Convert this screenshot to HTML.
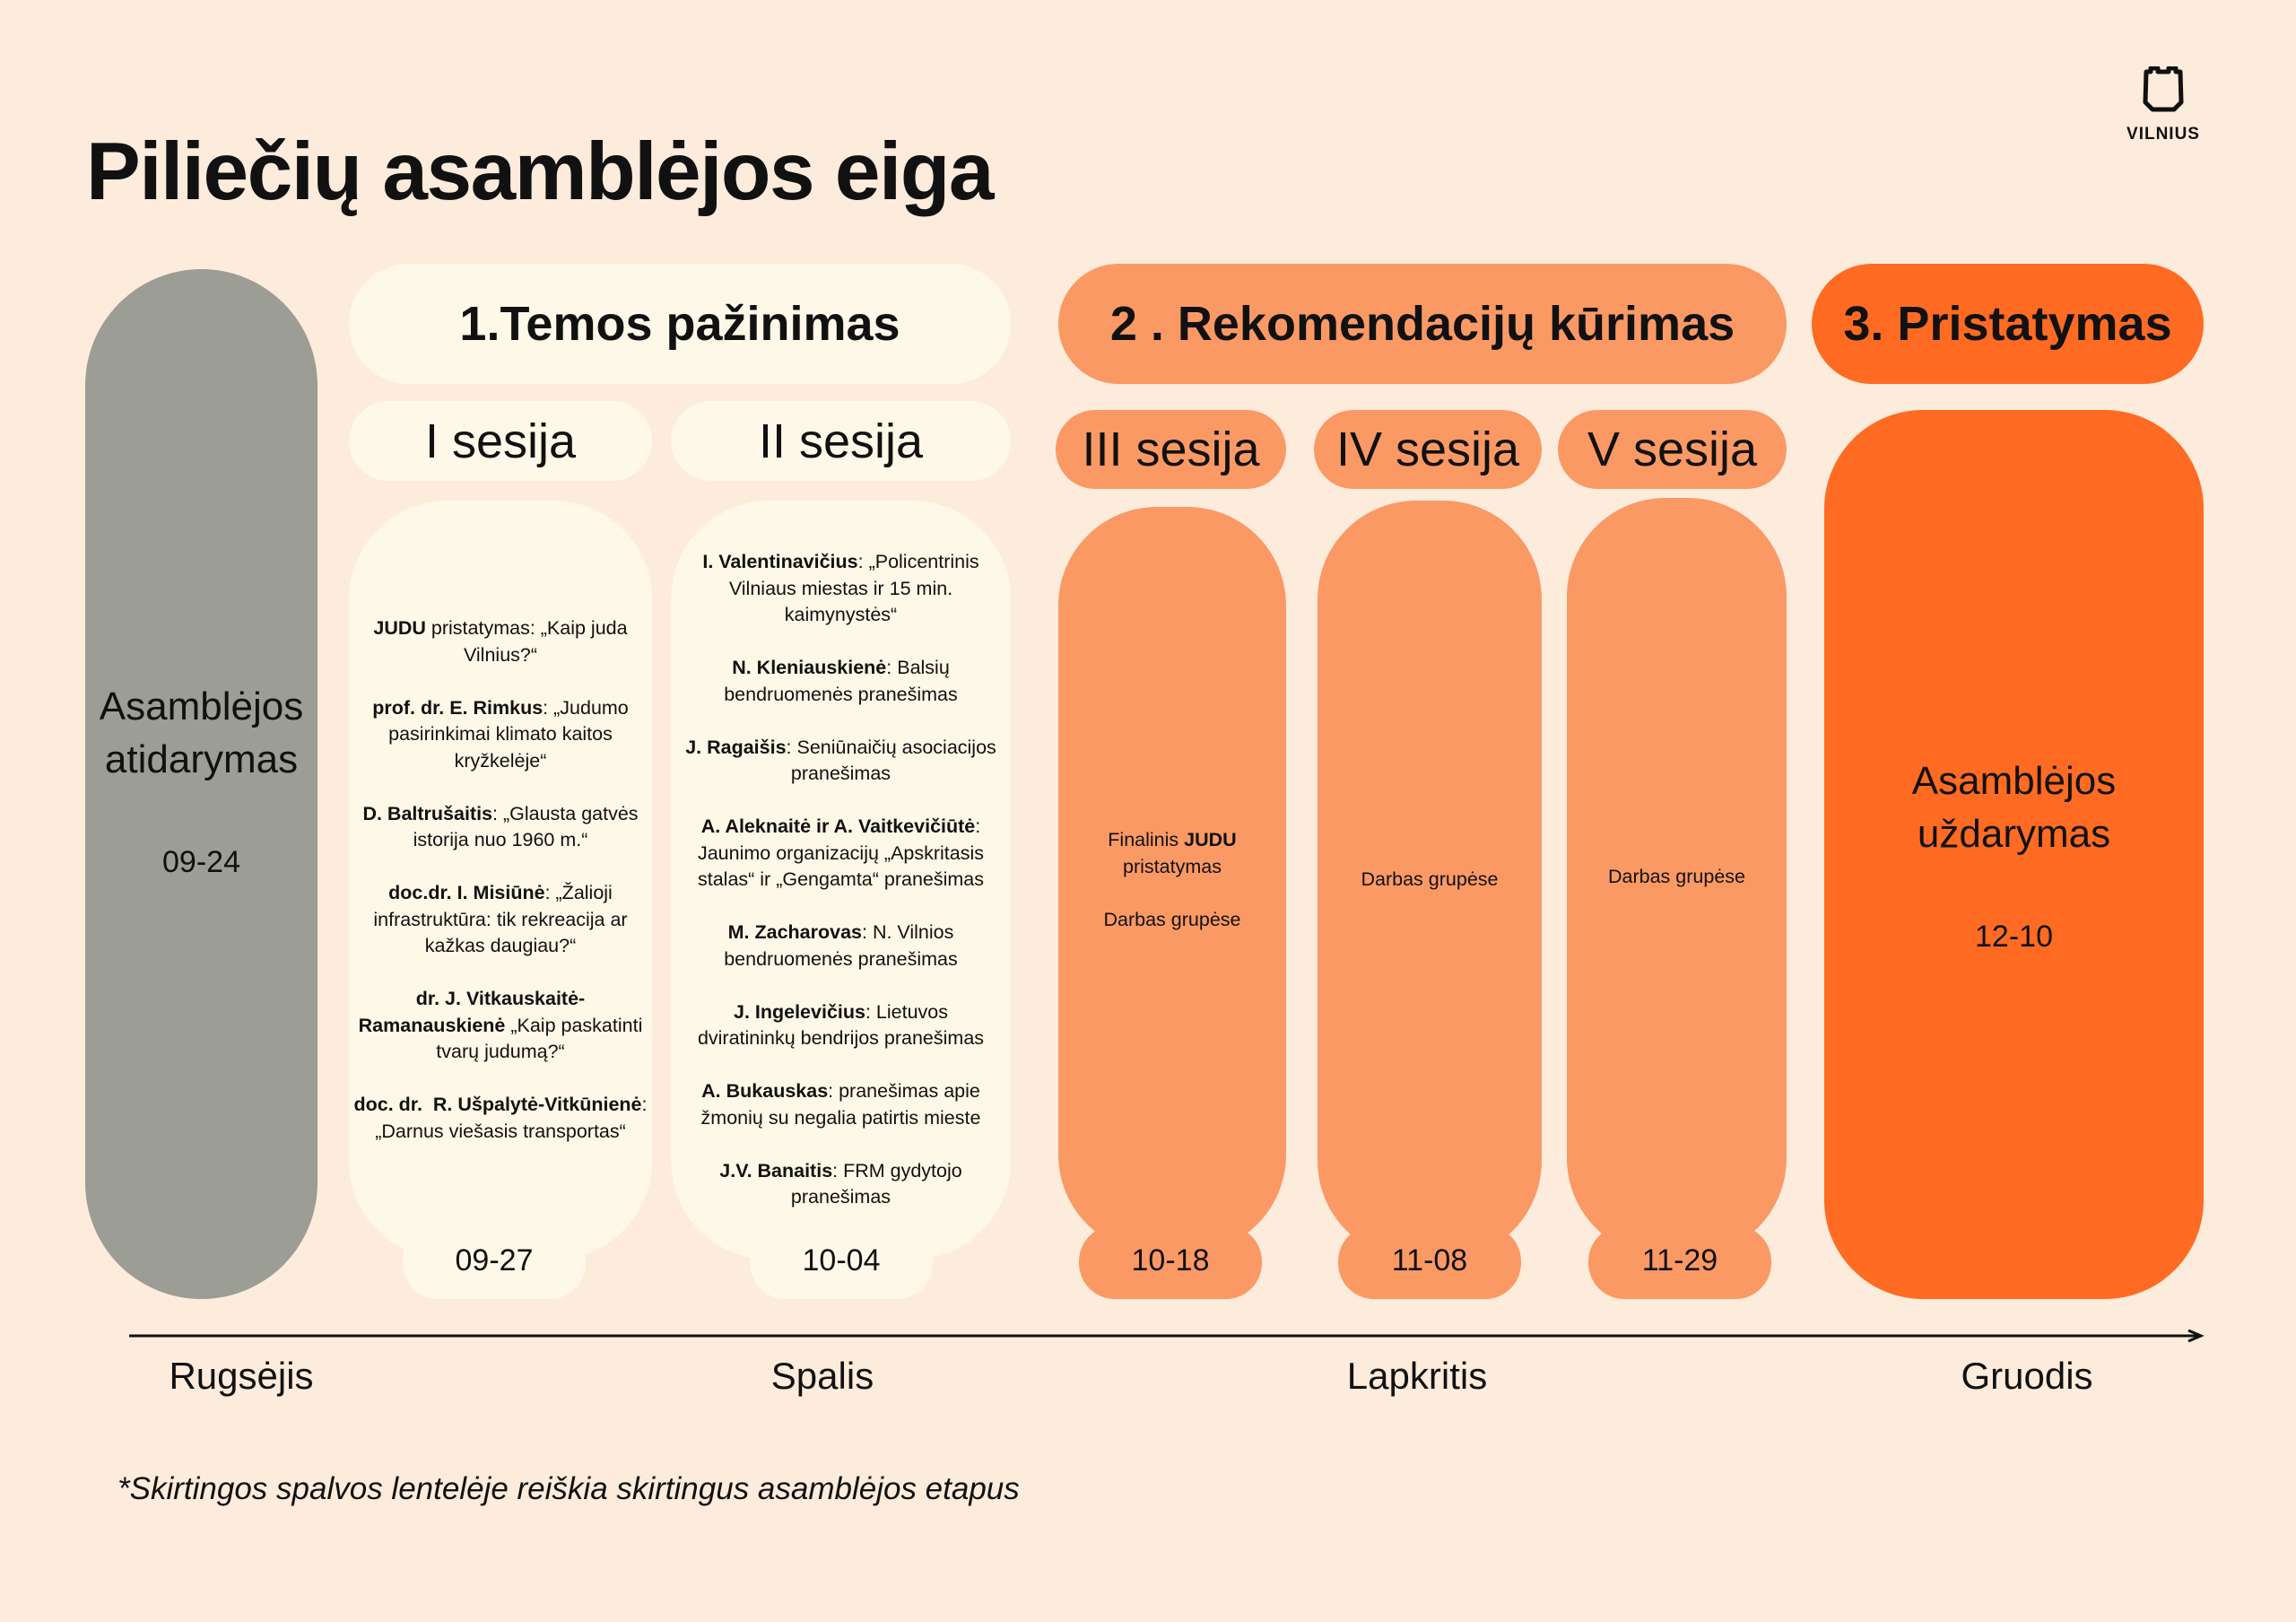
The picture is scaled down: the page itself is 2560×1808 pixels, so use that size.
<!DOCTYPE html>
<html><head><meta charset="utf-8"><style>
*{margin:0;padding:0;box-sizing:border-box}
body{width:2560px;height:1808px;background:#fdecdc;position:relative;overflow:hidden;font-family:"Liberation Sans","DejaVu Sans",sans-serif;color:#111}
.a{position:absolute}
.pill{position:absolute;display:flex;align-items:center;justify-content:center;text-align:center}
.hdr{font-weight:bold;font-size:54px;border-radius:70px}
.ses{font-size:54px;border-radius:46px}
.cnt{font-size:21.5px;line-height:29.5px;border-radius:110px;padding:0 2px;flex-direction:column}
.cnt p{margin:0 0 29.5px}
.cnt p:last-child{margin-bottom:0}
.date{font-size:34px;border-radius:40px}
.cream{background:#fef8e8}
.lo{background:#fb9965}
.or{background:#ff6b22}
.month{position:absolute;top:1510px;font-size:42px;transform:translateX(-50%)}
</style></head><body>
<div class="a" style="left:96px;top:140px;font-size:91px;font-weight:bold;letter-spacing:-1.5px">Piliečių asamblėjos eiga</div>

<div class="a" style="left:2362px;top:74px;width:100px;height:80px">
<svg width="100" height="56" viewBox="0 0 100 56"><path d="M31 6 L36 6 L36 2 L44 2 L44 6 L56 6 L56 2 L64 2 L64 6 L69 6 L70 40 L62 48 L38 48 L30 40 Z" fill="none" stroke="#111" stroke-width="5" stroke-linejoin="round"/></svg>
<div style="text-align:center;font-weight:bold;font-size:19px;letter-spacing:1px;margin-top:4px">VILNIUS</div>
</div>

<div class="pill" style="left:95px;top:300px;width:259px;height:1148px;background:#9c9d94;border-radius:130px;flex-direction:column;font-size:44px;line-height:59px">
<div>Asamblėjos<br>atidarymas</div><div style="font-size:34px;margin-top:56px">09-24</div></div>

<div class="pill hdr cream" style="left:389px;top:294px;width:738px;height:134px">1.Temos pažinimas</div>
<div class="pill hdr lo" style="left:1180px;top:294px;width:812px;height:134px">2 . Rekomendacijų kūrimas</div>
<div class="pill hdr or" style="left:2020px;top:294px;width:437px;height:134px">3. Pristatymas</div>

<div class="pill ses cream" style="left:389px;top:447px;width:338px;height:89px">I sesija</div>
<div class="pill ses cream" style="left:748px;top:447px;width:379px;height:89px">II sesija</div>
<div class="pill ses lo" style="left:1177px;top:457px;width:257px;height:88px">III sesija</div>
<div class="pill ses lo" style="left:1465px;top:457px;width:254px;height:88px">IV sesija</div>
<div class="pill ses lo" style="left:1737px;top:457px;width:255px;height:88px">V sesija</div>

<div class="pill date cream" style="left:449px;top:1366px;width:204px;height:82px"></div>
<div class="pill cnt cream" style="left:389px;top:558px;width:338px;height:846px">
<p><b>JUDU</b> pristatymas: „Kaip juda Vilnius?“</p>
<p><b>prof. dr. E. Rimkus</b>: „Judumo pasirinkimai klimato kaitos kryžkelėje“</p>
<p><b>D. Baltrušaitis</b>: „Glausta gatvės istorija nuo 1960 m.“</p>
<p><b>doc.dr. I. Misiūnė</b>: „Žalioji infrastruktūra: tik rekreacija ar kažkas daugiau?“</p>
<p><b>dr. J. Vitkauskaitė-<br>Ramanauskienė</b> „Kaip paskatinti tvarų judumą?“</p>
<p><b style="white-space:nowrap">doc. dr.&nbsp; R. Ušpalytė-Vitkūnienė</b>: „Darnus viešasis transportas“</p>
</div>
<div class="a" style="left:449px;top:1386px;width:204px;text-align:center;font-size:34px">09-27</div>

<div class="pill date cream" style="left:836px;top:1366px;width:204px;height:82px"></div>
<div class="pill cnt cream" style="left:748px;top:558px;width:379px;height:846px">
<p><b>I. Valentinavičius</b>: „Policentrinis Vilniaus miestas ir 15 min. kaimynystės“</p>
<p><b>N. Kleniauskienė</b>: Balsių bendruomenės pranešimas</p>
<p><b>J. Ragaišis</b>: Seniūnaičių asociacijos pranešimas</p>
<p><b>A. Aleknaitė ir A. Vaitkevičiūtė</b>: Jaunimo organizacijų „Apskritasis stalas“ ir „Gengamta“ pranešimas</p>
<p><b>M. Zacharovas</b>: N. Vilnios bendruomenės pranešimas</p>
<p><b>J. Ingelevičius</b>: Lietuvos<br>dviratininkų bendrijos pranešimas</p>
<p><b>A. Bukauskas</b>: pranešimas apie žmonių su negalia patirtis mieste</p>
<p><b>J.V. Banaitis</b>: FRM gydytojo pranešimas</p>
</div>
<div class="a" style="left:836px;top:1386px;width:204px;text-align:center;font-size:34px">10-04</div>

<div class="pill date lo" style="left:1203px;top:1366px;width:204px;height:82px"></div>
<div class="pill cnt lo" style="left:1180px;top:565px;width:254px;height:832px">
<p>Finalinis <b>JUDU</b><br>pristatymas</p><p>Darbas grupėse</p></div>
<div class="a" style="left:1203px;top:1386px;width:204px;text-align:center;font-size:34px">10-18</div>

<div class="pill date lo" style="left:1492px;top:1366px;width:204px;height:82px"></div>
<div class="pill cnt lo" style="left:1469px;top:558px;width:250px;height:846px"><p>Darbas grupėse</p></div>
<div class="a" style="left:1492px;top:1386px;width:204px;text-align:center;font-size:34px">11-08</div>

<div class="pill date lo" style="left:1771px;top:1366px;width:204px;height:82px"></div>
<div class="pill cnt lo" style="left:1747px;top:555px;width:245px;height:846px"><p>Darbas grupėse</p></div>
<div class="a" style="left:1771px;top:1386px;width:204px;text-align:center;font-size:34px">11-29</div>

<div class="pill or" style="left:2034px;top:457px;width:423px;height:991px;border-radius:110px;flex-direction:column;font-size:44px;line-height:59px">
<div style="margin-top:10px">Asamblėjos<br>uždarymas</div><div style="font-size:34px;margin-top:56px">12-10</div></div>

<svg class="a" style="left:140px;top:1479px" width="2320" height="20"><line x1="4" y1="10" x2="2310" y2="10" stroke="#111" stroke-width="3"/><path d="M2300 4 L2314 10 L2300 16" fill="none" stroke="#111" stroke-width="3"/></svg>
<div class="month" style="left:269px">Rugsėjis</div>
<div class="month" style="left:917px">Spalis</div>
<div class="month" style="left:1580px">Lapkritis</div>
<div class="month" style="left:2260px">Gruodis</div>

<div class="a" style="left:131px;top:1640px;font-size:35px;font-style:italic">*Skirtingos spalvos lentelėje reiškia skirtingus asamblėjos etapus</div>
</body></html>
